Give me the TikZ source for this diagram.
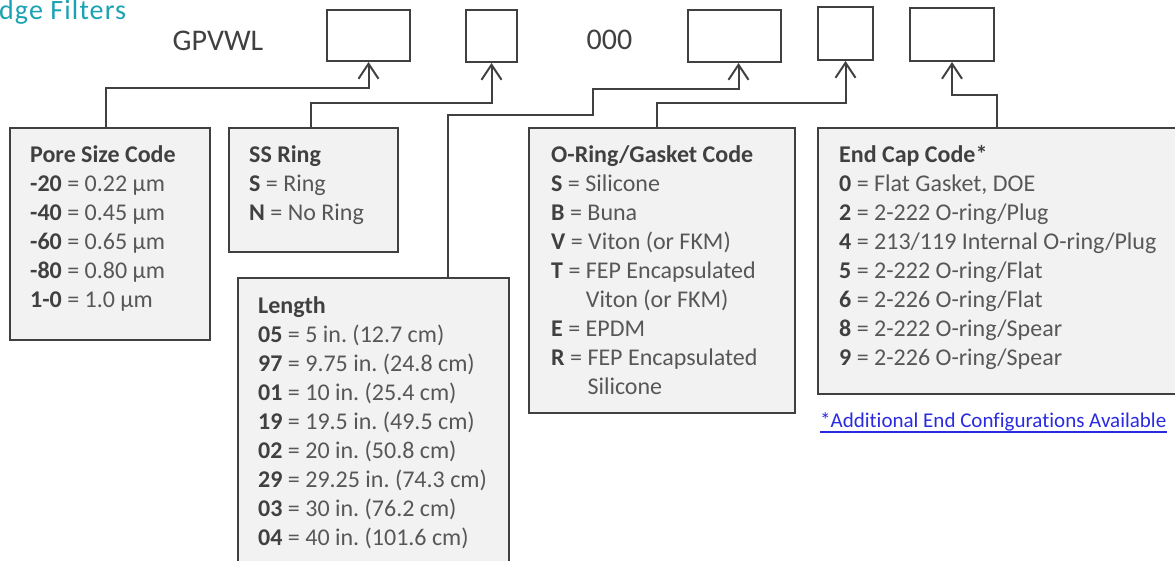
\documentclass[tikz,border=0pt]{standalone}
\usepackage{fontspec}
\setmainfont{Carlito}[Ligatures={TeX,NoCommon}]
\usetikzlibrary{arrows.meta}
\definecolor{ln}{HTML}{404040}
\definecolor{bx}{HTML}{F2F2F2}
\definecolor{tx}{HTML}{575757}
\definecolor{hd}{HTML}{404040}
\definecolor{titlecol}{HTML}{1AA2B4}
\definecolor{linkc}{HTML}{2A2AE0}
\newcommand\cd[1]{\textbf{\color{hd}#1}}
\tikzset{
  codebox/.style={draw=ln, line width=2pt, fill=bx, inner sep=0pt, anchor=north west},
  slot/.style={draw=ln, line width=2pt, fill=white, inner sep=0pt},
  conn/.style={draw=ln, line width=2pt, -{Straight Barb[length=15pt,width=20pt,line width=2pt]}},
  txt/.style={inner sep=0pt, anchor=base west, text=tx, font=\fontsize{24}{29}\selectfont},
  big/.style={inner sep=0pt, anchor=base, text=ln, font=\fontsize{30}{36}\selectfont},
}
\begin{document}
\frenchspacing
\begin{tikzpicture}[x=1pt,y=-1pt]
\useasboundingbox (0,0) rectangle (1175,561);
\clip (0,0) rectangle (1175,561);
% title and code
\node[inner sep=0pt, anchor=base west, text=titlecol, font=\fontsize{28}{34}\selectfont\addfontfeature{LetterSpace=4}] (title) at (-1,20) {dge Filters};
\node[big] (gp) at (218,51) {GPVWL};
\node[big] (zero) at (609.5,50) {000};
% slots
\node[slot, minimum width=83pt, minimum height=51pt] (t1) at (368.5,35.5) {};
\node[slot, minimum width=51pt, minimum height=52pt] (t2) at (491.5,36) {};
\node[slot, minimum width=93pt, minimum height=52pt] (t3) at (734.5,36) {};
\node[slot, minimum width=55pt, minimum height=53pt] (t4) at (845.5,33.5) {};
\node[slot, minimum width=84pt, minimum height=53pt] (t5) at (952,34.5) {};
% code boxes
\node[codebox, minimum width=200pt, minimum height=212pt] (pore) at (9,127) {};
\node[codebox, minimum width=169pt, minimum height=124pt] (ss) at (228,127) {};
\node[codebox, minimum width=271pt, minimum height=330pt] (len) at (237,277) {};
\node[codebox, minimum width=266pt, minimum height=285pt] (oring) at (528,127) {};
\node[codebox, minimum width=383pt, minimum height=266pt] (endcap) at (817,127) {};
% texts
\node[txt] (poretxt) at (30,163) {\parbox[t]{180pt}{\raggedright
\cd{Pore Size Code}\\
\cd{-20} = 0.22 µm\\
\cd{-40} = 0.45 µm\\
\cd{-60} = 0.65 µm\\
\cd{-80} = 0.80 µm\\
\cd{1-0} = 1.0 µm}};
\node[txt] (sstxt) at (249,163) {\parbox[t]{150pt}{\raggedright
\cd{SS Ring}\\
\cd{S} = Ring\\
\cd{N} = No Ring}};
\node[txt] (lentxt) at (258,313) {\parbox[t]{250pt}{\raggedright
\cd{Length}\\
\cd{05} = 5 in. (12.7 cm)\\
\cd{97} = 9.75 in. (24.8 cm)\\
\cd{01} = 10 in. (25.4 cm)\\
\cd{19} = 19.5 in. (49.5 cm)\\
\cd{02} = 20 in. (50.8 cm)\\
\cd{29} = 29.25 in. (74.3 cm)\\
\cd{03} = 30 in. (76.2 cm)\\
\cd{04} = 40 in. (101.6 cm)}};
\node[txt] (oringtxt) at (551,163) {\parbox[t]{240pt}{\raggedright
\cd{O-Ring/Gasket Code}\\
\cd{S} = Silicone\\
\cd{B} = Buna\\
\cd{V} = Viton (or FKM)\\
\cd{T} = FEP Encapsulated\\
\phantom{\cd{T} = }Viton (or FKM)\\
\cd{E} = EPDM\\
\cd{R} = FEP Encapsulated\\
\phantom{\cd{R} = }Silicone}};
\node[txt] (endtxt) at (839,163) {\parbox[t]{330pt}{\raggedright
\cd{End Cap Code*}\\
\cd{0} = Flat Gasket, DOE\\
\cd{2} = 2-222 O-ring/Plug\\
\cd{4} = 213/119 Internal O-ring/Plug\\
\cd{5} = 2-222 O-ring/Flat\\
\cd{6} = 2-226 O-ring/Flat\\
\cd{8} = 2-222 O-ring/Spear\\
\cd{9} = 2-226 O-ring/Spear}};
\node[inner sep=0pt, anchor=base west, text=linkc, font=\fontsize{21}{25}\selectfont] (link) at (820,427) {*Additional End Configurations Available};
\draw[linkc, line width=1.2pt] ([yshift=-5pt]link.base west) -- ([yshift=-5pt]link.base east);
% connectors
\draw[conn] ([xshift=-4pt]pore.north) -- ([xshift=-4pt]pore.north |- 0,88) -- (t1.south |- 0,88) -- (t1.south);
\draw[conn] ([xshift=-2.5pt]ss.north) -- ([xshift=-2.5pt]ss.north |- 0,103) -- (t2.south |- 0,103) -- (t2.south);
\draw[conn] (len.north west -| 448,0) -- (448,115) -- (593,115) -- (593,89) -- ([xshift=4pt]t3.south |- 0,89) -- ([xshift=4pt]t3.south);
\draw[conn] (oring.north west -| 657,0) -- (657,103) -- (t4.south |- 0,103) -- (t4.south);
\draw[conn] (endcap.north west -| 997,0) -- (997,95) -- (t5.south |- 0,95) -- (t5.south);
\end{tikzpicture}
\end{document}
